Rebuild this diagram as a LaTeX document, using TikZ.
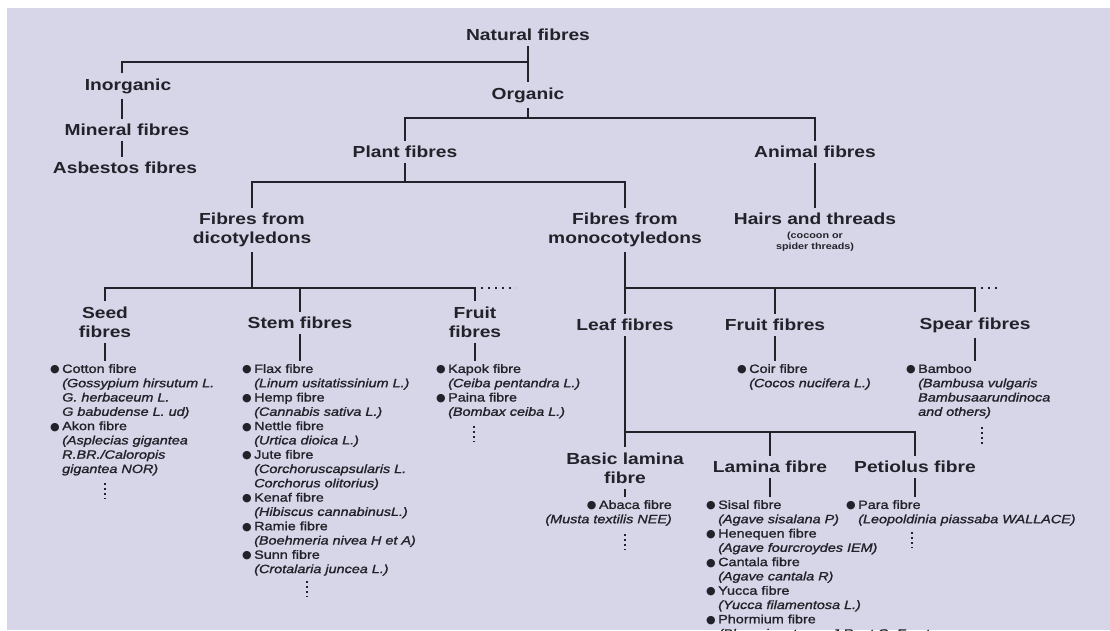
\documentclass[tikz,border=0pt]{standalone}
\usepackage{fontspec}
\setmainfont{Liberation Sans}[FakeStretch=1.2]
\newfontfamily\smallf{Liberation Sans}[FakeStretch=1.2, FakeBold=1.3]
\newfontfamily\dejavu{DejaVu Sans}
\definecolor{bgc}{RGB}{214,214,232}
\definecolor{ink}{RGB}{34,34,42}
\newcommand{\bul}{\makebox[12pt][l]{{\dejavu\fontsize{11}{11}\selectfont ●}}}
\newcommand{\ind}{\hspace*{12pt}}
\tikzset{
  lab/.style={font=\fontsize{16}{19}\selectfont\bfseries, text=ink, align=center, inner xsep=2pt, inner ysep=5pt},
  sub/.style={font=\fontsize{9}{11}\selectfont\bfseries, text=ink, align=center, inner sep=0pt},
  lst/.style={font=\smallf\fontsize{12}{14.3}\selectfont, text=ink, align=left, inner xsep=0pt, inner ysep=3pt, anchor=north west},
  lstr/.style={lst, align=right, anchor=north east},
  conn/.style={draw=ink, line width=1.8pt},
  more/.style={draw=ink, line width=2pt, dash pattern=on 1.8pt off 3.2pt},
  moreh/.style={draw=ink, line width=2pt, dash pattern=on 2pt off 5pt},
}
\begin{document}
\begin{tikzpicture}[x=1pt,y=-1pt]
\useasboundingbox (0,0) rectangle (1110,630);
\clip (0,0) rectangle (1110,630);
\fill[white] (0,0) rectangle (1110,630);
\fill[bgc] (7,8) rectangle (1110,630);

% main labels
\node[lab] (nat) at (528,35) {Natural fibres};
\node[lab] (inorg) at (128,86) {Inorganic};
\node[lab] (org) at (528,95) {Organic};
\node[lab] (mineral) at (127,130) {Mineral fibres};
\node[lab] (asb) at (125,168) {Asbestos fibres};
\node[lab] (plant) at (405,152) {Plant fibres};
\node[lab] (animal) at (815,152) {Animal fibres};
\node[lab] (dicot) at (252,230) {Fibres from\\dicotyledons};
\node[lab] (mono) at (625,230) {Fibres from\\monocotyledons};
\node[lab] (hairs) at (815,219) {Hairs and threads};
\node[sub] (hairsub) at (815,242) {(cocoon or\\spider threads)};
\node[lab] (seed) at (105,322) {Seed\\fibres};
\node[lab] (stem) at (300,323) {Stem fibres};
\node[lab] (fruitd) at (475,322) {Fruit\\fibres};
\node[lab] (leaf) at (625,325) {Leaf fibres};
\node[lab] (fruitm) at (775,325) {Fruit fibres};
\node[lab] (spear) at (975,325) {Spear fibres};
\node[lab] (basic) at (625,468) {Basic lamina\\fibre};
\node[lab] (lamina) at (770,467) {Lamina fibre};
\node[lab] (petiolus) at (915,467) {Petiolus fibre};

% lists
\node[lst] (seedlist) at (50,361) {\bul Cotton fibre\\
\ind\textit{(Gossypium hirsutum L.}\\
\ind\textit{G. herbaceum L.}\\
\ind\textit{G babudense L. ud)}\\
\bul Akon fibre\\
\ind\textit{(Asplecias gigantea}\\
\ind\textit{R.BR./Caloropis}\\
\ind\textit{gigantea NOR)}};
\node[lst] (stemlist) at (242,361) {\bul Flax fibre\\
\ind\textit{(Linum usitatissinium L.)}\\
\bul Hemp fibre\\
\ind\textit{(Cannabis sativa L.)}\\
\bul Nettle fibre\\
\ind\textit{(Urtica dioica L.)}\\
\bul Jute fibre\\
\ind\textit{(Corchoruscapsularis L.}\\
\ind\textit{Corchorus olitorius)}\\
\bul Kenaf fibre\\
\ind\textit{(Hibiscus cannabinusL.)}\\
\bul Ramie fibre\\
\ind\textit{(Boehmeria nivea H et A)}\\
\bul Sunn fibre\\
\ind\textit{(Crotalaria juncea L.)}};
\node[lst] (fruitdlist) at (436,361) {\bul Kapok fibre\\
\ind\textit{(Ceiba pentandra L.)}\\
\bul Paina fibre\\
\ind\textit{(Bombax ceiba L.)}};
\node[lst] (coirlist) at (737,361) {\bul Coir fibre\\
\ind\textit{(Cocos nucifera L.)}};
\node[lst] (bamlist) at (906,361) {\bul Bamboo\\
\ind\textit{(Bambusa vulgaris}\\
\ind\textit{Bambusaarundinoca}\\
\ind\textit{and others)}};
\node[lstr] (abalist) at (672,497) {\bul Abaca fibre\\
\textit{(Musta textilis NEE)}};
\node[lst] (sislist) at (706,497) {\bul Sisal fibre\\
\ind\textit{(Agave sisalana P)}\\
\bul Henequen fibre\\
\ind\textit{(Agave fourcroydes IEM)}\\
\bul Cantala fibre\\
\ind\textit{(Agave cantala R)}\\
\bul Yucca fibre\\
\ind\textit{(Yucca filamentosa L.)}\\
\bul Phormium fibre\\
\ind\textit{(Phormium tenax J.R. et G. Forst}};
\node[lst] (paralist) at (846,497) {\bul Para fibre\\
\ind\textit{(Leopoldinia piassaba WALLACE)}};

% bar coordinates
\coordinate (lx) at (122,0);
\coordinate (b1) at (528,62);
\coordinate (b2) at (528,118);
\coordinate (b3) at (405,182);
\coordinate (b4) at (252,288);
\coordinate (b5) at (625,288);
\coordinate (b6) at (625,432);
\coordinate (d0) at (481,288);
\coordinate (d1) at (516,288);
\coordinate (d2) at (981,288);
\coordinate (d3) at (1000,288);

% connectors
\draw[conn] (nat.south) -- (org.north);
\draw[conn] (inorg.north -| lx) |- (b1);
\draw[conn] (inorg.south -| lx) -- (mineral.north -| lx);
\draw[conn] (mineral.south -| lx) -- (asb.north -| lx);
\draw[conn] (org.south) -- (b2);
\draw[conn] (plant.north) |- (b2) -| (animal.north);
\draw[conn] (plant.south) -- (b3);
\draw[conn] (dicot.north) |- (b3) -| (mono.north);
\draw[conn] (animal.south) -- (hairs.north);
\draw[conn] (dicot.south) -- (b4);
\draw[conn] (seed.north) |- (b4) -| (fruitd.north);
\draw[conn] (stem.north) -- (stem.north |- b4);
\draw[moreh] (d0) -- (d1);
\draw[conn] (mono.south) -- (leaf.north);
\draw[conn] (b5) -| (spear.north);
\draw[conn] (fruitm.north) -- (fruitm.north |- b5);
\draw[moreh] (d2) -- (d3);
\draw[conn] (leaf.south) -- (basic.north);
\draw[conn] (b6) -| (petiolus.north);
\draw[conn] (lamina.north) -- (lamina.north |- b6);
\draw[conn] (seed.south) -- (seed.south |- seedlist.north);
\draw[conn] (stem.south) -- (stem.south |- stemlist.north);
\draw[conn] (fruitd.south) -- (fruitd.south |- fruitdlist.north);
\draw[conn] (fruitm.south) -- (fruitm.south |- coirlist.north);
\draw[conn] (spear.south) -- (spear.south |- bamlist.north);
\draw[conn] (basic.south) -- (basic.south |- abalist.north);
\draw[conn] (lamina.south) -- (lamina.south |- sislist.north);
\draw[conn] (petiolus.south) -- (petiolus.south |- paralist.north);

% continuation marks
\draw[more] (105,483) -- (105,499);
\draw[more] (307,581) -- (307,597);
\draw[more] (474,426) -- (474,442);
\draw[more] (982,427) -- (982,445);
\draw[more] (625,534) -- (625,550);
\draw[more] (912,532) -- (912,548);
\end{tikzpicture}
\end{document}
